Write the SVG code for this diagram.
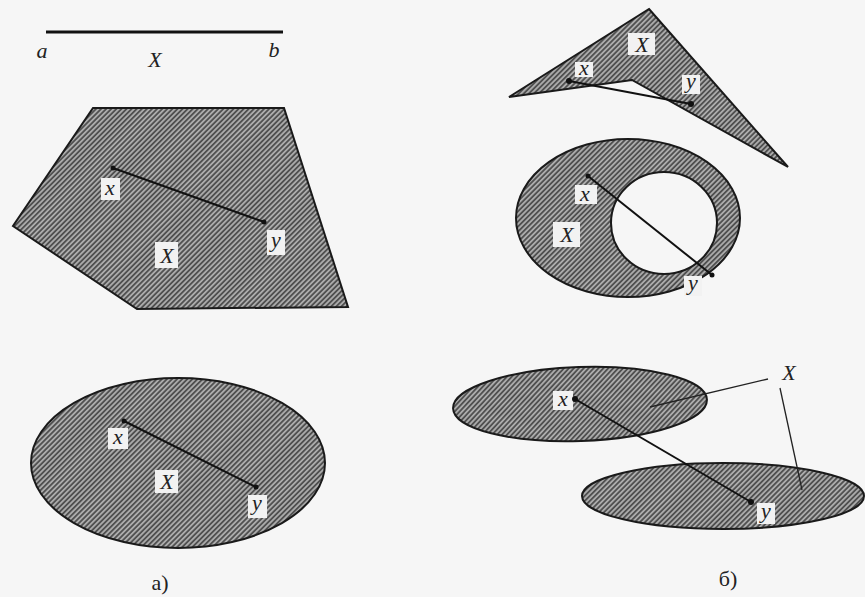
<svg xmlns="http://www.w3.org/2000/svg" width="865" height="597" viewBox="0 0 865 597">
<defs>
<pattern id="hatch" width="3.6" height="3.6" patternUnits="userSpaceOnUse" patternTransform="rotate(45)">
<rect width="3.6" height="3.6" fill="#ababab"/>
<rect width="1.8" height="3.6" fill="#505050"/>
</pattern>
</defs>
<style>
.shape{fill:url(#hatch);stroke:#1a1a1a;stroke-width:2}
.hole{fill:#f6f6f6;stroke:#1a1a1a;stroke-width:2}
.seg{stroke:#111;stroke-width:2;fill:none}
.lead{stroke:#222;stroke-width:1.3;fill:none}
.dot{fill:#111}
.lb{fill:#f2f2f2}
.t{font-family:"Liberation Serif",serif;font-style:italic;font-size:22px;fill:#222;text-anchor:middle}
.cap{font-family:"Liberation Serif",serif;font-size:22px;fill:#222;text-anchor:middle}
</style>
<rect width="865" height="597" fill="#f6f6f6"/>

<g id="segment-ab">
<line x1="46" y1="32" x2="283" y2="32" stroke="#111" stroke-width="3"/>
<text class="t" x="42" y="58">a</text>
<text class="t" x="155" y="67">X</text>
<text class="t" x="274" y="57">b</text>
</g>

<g id="pentagon">
<polygon class="shape" points="93,108 284,108 348,307 137,309 13,226"/>
<rect class="lb" x="101" y="178" width="19" height="22"/>
<text class="t" x="110" y="195">x</text>
<rect class="lb" x="267" y="230" width="18" height="25"/>
<text class="t" x="276" y="247">y</text>
<rect class="lb" x="155" y="242" width="23" height="26"/>
<text class="t" x="167" y="263">X</text>
</g>

<g id="ellipse-a">
<ellipse class="shape" cx="178" cy="463" rx="147" ry="85"/>
<rect class="lb" x="108" y="428" width="20" height="21"/>
<text class="t" x="118" y="444">x</text>
<rect class="lb" x="155" y="470" width="23" height="23"/>
<text class="t" x="167" y="489">X</text>
<rect class="lb" x="248" y="495" width="19" height="23"/>
<text class="t" x="257" y="510">y</text>
<text class="cap" x="160" y="590">a)</text>
</g>

<g id="boomerang">
<polygon class="shape" points="649,9 788,167 632,80 509,97"/>
<rect class="lb" x="628" y="33" width="27" height="22"/>
<text class="t" x="642" y="52">X</text>
<rect class="lb" x="575" y="62" width="18" height="15"/>
<text class="t" x="584" y="75">x</text>
<rect class="lb" x="682" y="75" width="18" height="19"/>
<text class="t" x="691" y="88">y</text>
</g>

<g id="annulus">
<ellipse class="shape" cx="628" cy="218" rx="112" ry="79"/>
<ellipse class="hole" cx="664" cy="223" rx="53" ry="51"/>
<rect class="lb" x="575" y="185" width="22" height="19"/>
<text class="t" x="585" y="201">x</text>
<rect class="lb" x="553" y="222" width="27" height="25"/>
<text class="t" x="567" y="242">X</text>
<rect class="lb" x="684" y="276" width="18" height="20"/>
<text class="t" x="693" y="290">y</text>
</g>

<g id="two-ellipses">
<ellipse class="shape" cx="580" cy="404" rx="127" ry="37" transform="rotate(-2 580 404)"/>
<ellipse class="shape" cx="723" cy="496" rx="141" ry="33"/>
<rect class="lb" x="553" y="391" width="20" height="19"/>
<text class="t" x="563" y="406">x</text>
<rect class="lb" x="757" y="503" width="18" height="21"/>
<text class="t" x="766" y="518">y</text>
<text class="t" x="789" y="380">X</text>
<text class="cap" x="728" y="586">б)</text>
</g>

<g id="connectors">
<line class="seg" x1="113" y1="168" x2="264" y2="222"/>
<circle class="dot" cx="113" cy="168" r="2.5"/>
<circle class="dot" cx="264" cy="222" r="2.5"/>
<line class="seg" x1="124" y1="421" x2="256" y2="487"/>
<circle class="dot" cx="124" cy="421" r="2.5"/>
<circle class="dot" cx="256" cy="487" r="2.5"/>
<line class="seg" x1="569" y1="81" x2="691" y2="104"/>
<circle class="dot" cx="569" cy="81" r="3"/>
<circle class="dot" cx="691" cy="104" r="3"/>
<line class="seg" x1="588" y1="176" x2="712" y2="275"/>
<circle class="dot" cx="588" cy="176" r="2.5"/>
<circle class="dot" cx="712" cy="275" r="2.5"/>
<line class="seg" x1="575" y1="399" x2="751" y2="502"/>
<circle class="dot" cx="575" cy="399" r="3"/>
<circle class="dot" cx="751" cy="502" r="3"/>
<line class="lead" x1="768" y1="379" x2="650" y2="407"/>
<line class="lead" x1="780" y1="388" x2="802" y2="490"/>
</g>
</svg>
